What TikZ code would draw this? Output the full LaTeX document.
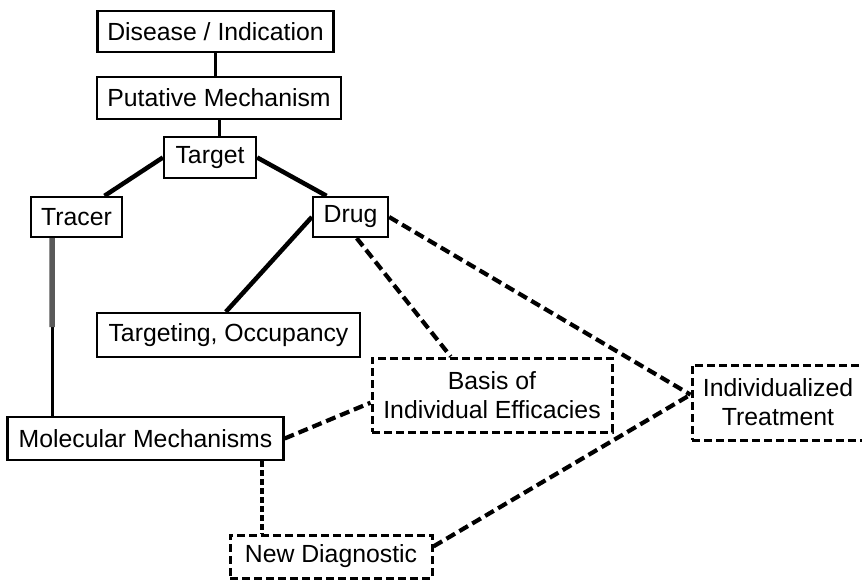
\documentclass[tikz,border=0pt]{standalone}
\usepackage{fontspec}
\setmainfont{Liberation Sans}
\usetikzlibrary{calc}
\begin{document}
\begin{tikzpicture}[x=1pt,y=-1pt,
  every node/.style={font=\fontsize{24.8}{29}\selectfont, inner sep=0pt, align=center, anchor=center},
  solidbox/.style={draw, line width=2.3pt},
  dashbox/.style={draw, line width=3pt, dash pattern=on 8pt off 4pt},
  link/.style={line width=4.5pt},
  thinlink/.style={line width=3pt},
  dlink/.style={line width=4.2pt, dash pattern=on 10pt off 5pt},
  dotlink/.style={line width=4pt, dash pattern=on 6pt off 3pt}]
\useasboundingbox (0,0) rectangle (862,579);
\fill[white] (0,0) rectangle (862,579);

\node[solidbox, minimum width=236pt, minimum height=41pt] (dis) at (215.5,31.5) {Disease / Indication};
\node[solidbox, minimum width=244pt, minimum height=42pt] (put) at (219,98) {Putative Mechanism};
\node[solidbox, minimum width=92pt, minimum height=41pt] (tgt) at (210,157.5) {Target};
\node[solidbox, minimum width=91pt, minimum height=40pt] (trc) at (76.5,217) {Tracer};
\node[solidbox, minimum width=75pt, minimum height=40pt] (drg) at (350.5,217) {Drug};
\node[solidbox, minimum width=263pt, minimum height=44pt] (occ) at (228.5,335) {Targeting, Occupancy};
\node[dashbox, minimum width=240pt, minimum height=74pt] (bas) at (492,395) {Basis of\\Individual Efficacies};
\node[dashbox, minimum width=172pt, minimum height=75pt] (ind) at (778,402.5) {Individualized\\Treatment};
\node[solidbox, minimum width=276pt, minimum height=43pt] (mol) at (145.5,438.5) {Molecular Mechanisms};
\node[dashbox, minimum width=202pt, minimum height=43pt] (nd) at (331,556.5) {New Diagnostic};

% solid connectors
\draw[thinlink] (dis.south) -- (dis.south |- put.north);
\draw[thinlink] (put.south) -- (put.south |- tgt.north);
\draw[link] (tgt.west) -- ($(trc.north west)!0.8!(trc.north east)$);
\draw[link] (tgt.east) -- ($(drg.north west)!0.19!(drg.north east)$);
\draw[link] (drg.west) -- ($(occ.north west)!0.49!(occ.north east)$);

% tracer to molecular mechanisms
\coordinate (ts) at ($(trc.south west)!0.24!(trc.south east)$);
\coordinate (ms) at (ts |- mol.north);
\coordinate (gm) at ($(ts)!0.5!(ms)$);
\draw[thinlink] (ts) -- (ms);
\draw[line width=5.5pt, black!65] (ts) -- (gm);

% dashed connectors
\coordinate (indj) at ($(ind.north west)!0.4!(ind.south west)$);
\draw[dlink] ($(drg.south west)!0.58!(drg.south east)$) -- ($(bas.north west)!0.33!(bas.north east)$);
\draw[dlink] (drg.east) -- (indj);
\draw[dlink] (mol.east) -- ($(bas.north west)!0.6!(bas.south west)$);
\draw[dlink] ($(nd.north east)!0.28!(nd.south east)$) -- (indj);
\coordinate (mds) at ($(mol.south west)!0.92!(mol.south east)$);
\draw[dotlink] (mds) -- (mds |- nd.north);
\end{tikzpicture}
\end{document}
